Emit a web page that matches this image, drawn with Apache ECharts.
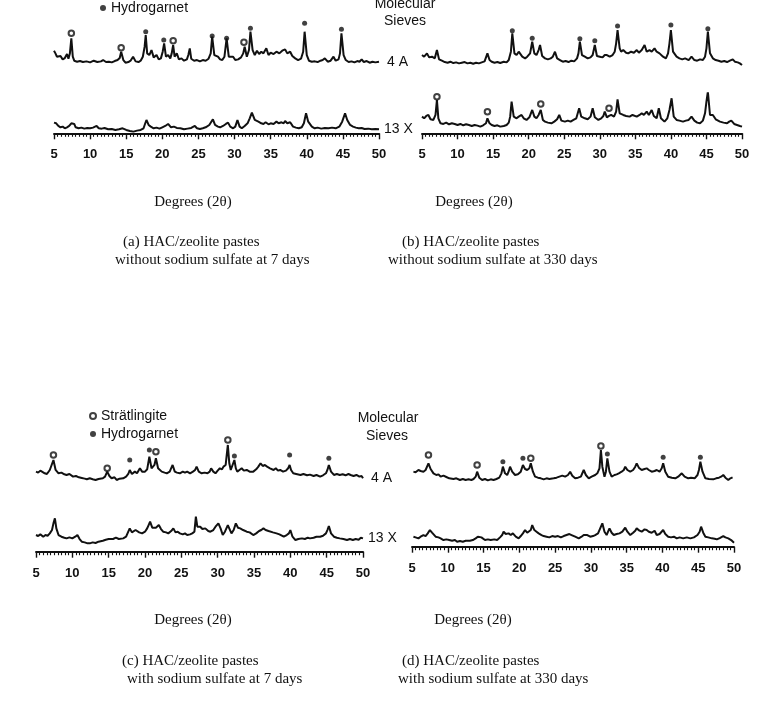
<!DOCTYPE html>
<html>
<head>
<meta charset="UTF-8">
<title>XRD HAC/zeolite pastes</title>
<script src="https://cdn.jsdelivr.net/npm/echarts/dist/echarts.min.js"></script>
<style>
  html, body { margin: 0; background: #fff; }
  #main { width: 772px; height: 710px; }
</style>
</head>
<body>
<div id="main"></div>
<script>
// 2theta ticks
const thetaMin = 5;
const thetaMax = 50;
const thetaStep = 5;

// intensities, arbitrary units, [2theta, intensity]
// (a) without sodium sulfate, 7 days
const a4A = [[5.0,48],[5.2,40],[5.4,30],[5.6,25],[5.9,32],[6.2,22],[6.5,26],[6.8,38],[7.0,24],[7.2,40],[7.4,85],[7.6,30],[7.8,18],[8.2,15],[8.6,17],[9.0,14],[9.5,16],[10.0,13],[10.5,18],[11.0,14],[11.5,16],[11.8,20],[12.2,14],[12.6,15],[13.0,13],[13.4,17],[13.8,20],[14.1,26],[14.3,45],[14.6,20],[14.9,12],[15.3,14],[15.6,18],[15.95,30],[16.3,16],[16.7,14],[17.0,18],[17.3,30],[17.55,60],[17.7,95],[17.9,40],[18.2,35],[18.5,50],[18.8,28],[19.2,35],[19.5,22],[19.8,25],[20.05,45],[20.25,70],[20.5,30],[20.8,35],[21.1,25],[21.3,40],[21.5,65],[21.7,30],[22.0,40],[22.3,22],[22.65,25],[23.0,18],[23.4,22],[23.6,35],[23.8,55],[24.0,24],[24.4,18],[24.8,20],[25.2,16],[25.6,20],[26.0,18],[26.4,24],[26.7,40],[26.9,90],[27.2,35],[27.7,30],[28.0,22],[28.3,20],[28.6,30],[28.9,85],[29.2,30],[29.8,30],[30.1,20],[30.5,22],[30.9,28],[31.2,40],[31.4,60],[31.7,30],[32.0,50],[32.2,105],[32.5,50],[32.8,35],[33.1,48],[33.4,38],[33.7,45],[34.0,40],[34.4,55],[34.7,35],[35.0,42],[35.4,38],[35.8,45],[36.2,40],[36.6,48],[37.0,52],[37.3,40],[37.7,45],[38.0,32],[38.4,25],[38.8,20],[39.2,24],[39.5,45],[39.7,105],[40.0,35],[40.3,18],[40.7,15],[41.1,16],[41.5,14],[41.9,18],[42.2,20],[42.5,25],[42.9,15],[43.3,18],[43.7,30],[44.0,18],[44.4,22],[44.6,40],[44.8,100],[45.1,35],[45.4,20],[45.8,14],[46.2,16],[46.6,13],[47.0,17],[47.3,15],[47.6,22],[47.9,14],[48.3,17],[48.7,12],[49.1,15],[49.5,13],[50.0,15]];
const a13X = [[5.0,32],[5.3,30],[5.6,22],[5.9,18],[6.2,20],[6.5,15],[6.8,18],[7.1,22],[7.4,30],[7.6,35],[7.8,28],[8.0,18],[8.4,15],[8.8,17],[9.2,14],[9.6,16],[10.0,15],[10.4,17],[10.9,22],[11.2,15],[11.6,14],[12.0,16],[12.5,12],[13.0,13],[13.5,10],[14.0,12],[14.5,15],[15.0,10],[15.5,7],[16.0,5],[16.5,8],[17.0,10],[17.4,15],[17.6,28],[17.8,40],[18.1,25],[18.4,20],[18.8,15],[19.2,17],[19.6,14],[20.0,18],[20.4,22],[20.8,28],[21.2,18],[21.6,20],[22.0,16],[22.5,15],[23.0,12],[23.5,14],[24.0,16],[24.5,22],[24.8,15],[25.2,13],[25.6,15],[26.0,18],[26.5,25],[27.0,42],[27.3,25],[27.7,20],[28.0,18],[28.4,22],[28.8,28],[29.1,32],[29.4,20],[29.8,15],[30.1,20],[30.4,40],[30.7,20],[31.0,15],[31.4,22],[31.8,30],[32.1,45],[32.4,62],[32.8,40],[33.0,35],[33.3,35],[33.7,30],[34.0,28],[34.3,33],[34.7,27],[35.0,30],[35.4,28],[35.8,35],[36.1,30],[36.5,33],[36.8,30],[37.0,37],[37.3,30],[37.7,33],[38.1,20],[38.5,17],[38.9,15],[39.3,18],[39.6,30],[39.9,60],[40.2,35],[40.7,20],[41.1,15],[41.5,17],[42.0,14],[42.5,16],[43.0,15],[43.5,17],[44.0,15],[44.5,20],[44.9,35],[45.3,60],[45.6,40],[46.0,25],[46.4,20],[46.8,17],[47.2,15],[47.6,16],[48.0,13],[48.5,14],[49.0,12],[49.5,13],[50.0,12]];

// (b) without sodium sulfate, 330 days
const b4A = [[5.0,35],[5.3,30],[5.7,40],[6.0,28],[6.4,30],[6.8,25],[7.1,50],[7.4,22],[7.8,18],[8.2,14],[8.6,12],[9.0,15],[9.4,11],[9.8,13],[10.2,10],[10.6,12],[11.0,14],[11.4,10],[11.8,12],[12.2,9],[12.6,12],[13.0,10],[13.4,13],[13.8,16],[14.0,22],[14.2,40],[14.5,20],[14.8,15],[15.2,12],[15.6,14],[16.0,11],[16.5,15],[16.9,13],[17.2,20],[17.5,45],[17.7,100],[18.0,40],[18.3,35],[18.6,45],[18.8,50],[19.1,30],[19.5,25],[19.8,30],[20.2,40],[20.5,75],[20.8,40],[21.1,35],[21.4,50],[21.6,65],[21.9,32],[22.3,25],[22.7,22],[23.1,25],[23.4,30],[23.7,45],[24.0,25],[24.4,20],[24.8,15],[25.2,17],[25.6,14],[26.0,18],[26.4,16],[26.8,25],[27.0,40],[27.2,75],[27.5,35],[27.9,30],[28.3,25],[28.7,28],[29.0,35],[29.3,65],[29.6,32],[30.0,30],[30.4,28],[30.7,35],[31.0,35],[31.4,30],[31.8,35],[32.1,45],[32.3,70],[32.5,110],[32.8,55],[33.0,45],[33.3,50],[33.7,42],[34.0,40],[34.4,45],[34.8,42],[35.2,50],[35.5,42],[35.9,50],[36.3,65],[36.6,45],[37.0,50],[37.3,45],[37.7,55],[38.0,45],[38.4,40],[38.9,30],[39.3,25],[39.6,40],[39.8,70],[40.0,110],[40.3,45],[40.8,30],[41.2,25],[41.6,22],[42.0,25],[42.5,20],[42.9,30],[43.3,20],[43.7,18],[44.1,22],[44.5,20],[44.8,30],[45.0,55],[45.2,105],[45.5,40],[45.9,25],[46.3,20],[46.7,18],[47.1,15],[47.5,17],[47.9,14],[48.3,18],[48.7,22],[49.0,15],[49.4,13],[49.7,10],[50.0,5]];
const b13X = [[5.0,50],[5.3,45],[5.6,52],[5.9,55],[6.2,42],[6.6,40],[6.9,55],[7.1,100],[7.3,45],[7.6,30],[8.0,28],[8.4,32],[8.8,27],[9.2,30],[9.6,28],[10.0,25],[10.4,28],[10.8,24],[11.2,27],[11.6,25],[12.0,22],[12.4,25],[12.8,23],[13.2,20],[13.6,24],[14.0,30],[14.2,45],[14.5,30],[14.8,25],[15.2,22],[15.6,24],[16.0,20],[16.5,22],[16.9,25],[17.2,32],[17.4,50],[17.6,95],[17.9,50],[18.3,45],[18.6,50],[19.0,55],[19.3,45],[19.7,40],[20.1,48],[20.5,70],[20.8,50],[21.1,45],[21.4,55],[21.7,70],[22.0,40],[22.3,35],[22.7,32],[23.2,30],[23.6,35],[24.0,42],[24.3,55],[24.6,38],[25.1,35],[25.5,38],[25.9,35],[26.3,40],[26.7,45],[27.1,75],[27.4,50],[27.9,45],[28.3,42],[28.7,50],[29.0,75],[29.3,48],[29.8,40],[30.2,45],[30.5,52],[30.7,65],[31.0,48],[31.3,52],[31.6,55],[32.0,50],[32.3,65],[32.5,102],[32.8,60],[33.3,55],[33.7,52],[34.2,50],[34.6,55],[35.2,50],[35.6,55],[35.9,60],[36.2,55],[36.6,65],[36.9,55],[37.3,70],[37.6,52],[38.0,45],[38.3,75],[38.6,45],[39.1,35],[39.5,45],[39.8,70],[40.1,105],[40.4,50],[40.8,40],[41.2,38],[41.7,35],[42.1,38],[42.5,40],[42.9,50],[43.3,38],[43.7,32],[44.1,30],[44.5,38],[44.8,60],[45.0,95],[45.2,125],[45.5,55],[45.9,55],[46.3,42],[46.9,35],[47.4,32],[47.9,30],[48.2,35],[48.5,38],[48.9,28],[49.3,25],[49.7,22],[50.0,20]];

// (c) with sodium sulfate, 7 days
const c4A = [[5.0,35],[5.3,32],[5.6,38],[5.8,32],[6.2,30],[6.5,28],[6.9,40],[7.1,45],[7.4,70],[7.7,40],[8.1,30],[8.5,32],[8.9,27],[9.2,25],[9.6,28],[10.1,20],[10.5,22],[10.9,18],[11.3,16],[11.7,14],[12.0,12],[12.4,15],[12.8,12],[13.2,10],[13.6,13],[13.8,10],[14.2,15],[14.5,20],[14.8,35],[15.1,22],[15.4,15],[15.8,18],[16.1,10],[16.5,14],[17.0,15],[17.4,20],[17.7,28],[17.9,40],[18.2,28],[18.6,35],[18.9,30],[19.3,45],[19.6,35],[20.0,35],[20.3,42],[20.6,80],[20.9,45],[21.1,50],[21.3,55],[21.5,75],[21.8,45],[22.3,35],[22.7,32],[23.0,30],[23.4,35],[23.8,55],[24.1,35],[24.4,32],[24.8,30],[25.2,35],[25.5,32],[25.8,35],[26.2,30],[26.6,35],[26.9,40],[27.1,50],[27.4,35],[27.8,30],[28.2,32],[28.6,30],[28.9,35],[29.1,45],[29.4,35],[29.7,30],[30.0,38],[30.3,45],[30.6,42],[30.8,50],[31.1,55],[31.4,115],[31.6,60],[31.8,40],[32.0,45],[32.3,70],[32.5,45],[32.7,35],[33.0,40],[33.3,45],[33.6,38],[34.0,40],[34.4,35],[34.9,35],[35.3,42],[35.6,50],[35.9,60],[36.2,52],[36.5,55],[36.8,50],[37.2,45],[37.7,40],[38.0,45],[38.3,38],[38.6,40],[39.0,35],[39.4,38],[39.7,45],[39.9,55],[40.1,40],[40.4,30],[40.8,28],[41.4,25],[41.8,28],[42.3,24],[42.7,26],[43.2,22],[43.6,25],[44.1,20],[44.5,24],[44.9,30],[45.1,40],[45.3,55],[45.6,35],[46.0,25],[46.4,28],[46.8,25],[47.2,27],[47.6,24],[48.0,28],[48.3,25],[48.7,22],[49.1,25],[49.5,20],[49.8,22],[50.0,15]];
const c13X = [[5.0,50],[5.3,47],[5.6,52],[6.0,45],[6.3,50],[6.6,48],[6.9,55],[7.2,65],[7.4,85],[7.6,100],[7.8,70],[8.1,50],[8.5,45],[8.9,42],[9.2,40],[9.6,43],[10.0,40],[10.4,45],[10.7,50],[11.0,38],[11.3,30],[11.7,28],[12.1,25],[12.4,25],[12.8,28],[13.2,26],[13.6,30],[13.8,30],[14.2,33],[14.6,36],[15.0,38],[15.2,40],[15.6,38],[16.0,42],[16.4,38],[17.0,40],[17.4,45],[17.7,60],[17.9,70],[18.2,58],[18.4,60],[18.7,65],[18.9,70],[19.2,58],[19.6,55],[20.0,60],[20.3,70],[20.5,80],[20.7,90],[21.0,72],[21.2,75],[21.5,72],[21.9,80],[22.2,68],[22.5,60],[22.9,58],[23.2,55],[23.6,62],[23.9,70],[24.2,58],[24.5,60],[24.8,55],[25.2,52],[25.5,55],[25.8,50],[26.2,52],[26.5,55],[26.8,60],[27.0,105],[27.2,75],[27.6,75],[27.9,68],[28.3,70],[28.7,62],[29.0,60],[29.4,65],[29.7,75],[30.1,85],[30.4,70],[30.7,50],[31.0,60],[31.4,80],[31.7,65],[31.9,55],[32.2,65],[32.5,85],[32.8,72],[33.1,70],[33.5,65],[34.0,60],[34.4,58],[34.9,50],[35.3,55],[35.7,62],[36.0,65],[36.3,70],[36.6,65],[37.0,62],[37.2,60],[37.6,58],[38.1,55],[38.5,52],[39.1,45],[39.5,50],[39.8,55],[40.0,65],[40.3,45],[40.7,35],[41.1,38],[41.6,40],[42.0,38],[42.4,42],[42.7,40],[43.2,42],[43.6,45],[44.1,45],[44.5,48],[44.9,55],[45.1,65],[45.3,77],[45.6,55],[46.0,45],[46.4,42],[46.8,40],[47.3,38],[47.8,35],[48.2,38],[48.6,35],[49.0,38],[49.4,36],[49.7,42],[50.0,40]];

// (d) with sodium sulfate, 330 days
const d4A = [[5.2,40],[5.5,38],[5.9,45],[6.2,42],[6.6,40],[6.9,45],[7.1,50],[7.3,65],[7.6,48],[8.0,35],[8.4,30],[8.7,32],[9.0,25],[9.4,28],[9.8,24],[10.2,20],[10.4,22],[10.8,18],[11.2,20],[11.7,15],[12.1,18],[12.5,15],[12.9,17],[13.3,15],[13.6,18],[13.9,25],[14.1,40],[14.4,22],[14.8,15],[15.2,18],[15.6,14],[16.0,17],[16.4,15],[16.8,18],[17.2,22],[17.5,35],[17.7,55],[18.0,35],[18.3,30],[18.5,40],[18.7,55],[19.0,40],[19.4,30],[19.8,32],[20.2,40],[20.5,60],[20.8,48],[21.1,45],[21.4,50],[21.6,65],[21.9,40],[22.2,25],[22.6,22],[23.0,20],[23.4,17],[23.8,20],[24.2,18],[24.8,20],[25.2,22],[25.6,25],[26.0,28],[26.4,25],[26.8,30],[27.1,40],[27.4,28],[27.8,20],[28.2,22],[28.6,25],[29.0,45],[29.3,30],[29.7,20],[30.1,25],[30.6,30],[30.9,35],[31.2,50],[31.4,105],[31.6,55],[31.9,25],[32.1,40],[32.3,80],[32.6,40],[32.9,25],[33.3,30],[33.6,32],[33.9,35],[34.3,40],[34.6,45],[34.8,55],[35.1,45],[35.5,40],[35.9,45],[36.2,55],[36.4,65],[36.7,52],[37.1,45],[37.5,48],[37.8,50],[38.1,45],[38.5,40],[38.9,42],[39.2,45],[39.6,40],[39.9,50],[40.1,65],[40.4,40],[40.8,25],[41.3,22],[41.8,20],[42.2,25],[42.7,35],[43.1,25],[43.6,20],[44.0,22],[44.5,20],[44.9,30],[45.1,45],[45.3,70],[45.6,40],[46.0,20],[46.5,18],[47.1,17],[47.5,20],[47.9,22],[48.2,25],[48.5,30],[48.8,22],[49.2,15],[49.5,20],[49.8,23]];
const d13X = [[5.2,30],[5.5,28],[5.9,25],[6.2,30],[6.6,35],[6.9,32],[7.2,40],[7.5,50],[7.8,42],[8.3,30],[8.7,28],[9.0,25],[9.4,20],[9.8,22],[10.2,20],[10.6,18],[11.0,20],[11.3,15],[11.7,17],[12.1,15],[12.5,18],[12.7,15],[13.1,18],[13.5,20],[13.9,25],[14.2,30],[14.4,35],[14.7,28],[15.2,20],[15.6,22],[16.0,20],[16.5,22],[16.9,20],[17.3,28],[17.6,35],[17.8,45],[18.1,38],[18.5,40],[18.8,35],[19.1,40],[19.5,30],[19.9,25],[20.2,32],[20.5,40],[20.8,50],[21.1,42],[21.3,40],[21.6,50],[21.8,65],[22.1,50],[22.4,45],[22.7,40],[23.1,35],[23.4,32],[23.8,30],[24.2,28],[24.6,32],[25.0,30],[25.4,32],[25.8,28],[26.2,32],[26.6,35],[27.0,38],[27.3,35],[27.8,30],[28.3,25],[28.7,30],[29.0,35],[29.2,40],[29.5,35],[29.9,30],[30.3,32],[30.6,35],[31.0,40],[31.3,55],[31.6,70],[31.9,45],[32.2,35],[32.4,45],[32.6,55],[32.9,42],[33.2,35],[33.6,38],[34.0,40],[34.4,45],[34.8,57],[35.1,45],[35.5,35],[35.9,42],[36.2,48],[36.4,55],[36.8,48],[37.1,45],[37.5,52],[37.8,50],[38.1,45],[38.5,42],[38.9,48],[39.2,35],[39.6,38],[40.1,50],[40.4,38],[40.8,30],[41.2,28],[41.6,30],[42.0,25],[42.4,28],[42.9,25],[43.4,28],[43.9,25],[44.4,28],[44.9,35],[45.2,45],[45.4,60],[45.7,42],[46.0,30],[46.4,28],[46.9,25],[47.3,24],[47.6,22],[48.0,26],[48.5,32],[48.8,28],[49.2,25],[49.6,20],[50.0,12]];

// peak marks [2theta, level]
const aStrat = [[7.4,100],[14.3,57],[21.5,78],[31.3,73]];
const aHydro = [[17.7,105],[20.2,80],[26.9,92],[28.9,85],[32.2,115],[39.7,130],[44.8,112]];
const bHydro = [[17.7,108],[20.5,85],[27.2,84],[29.3,78],[32.5,122],[40.0,125],[45.2,114]];
const b13Strat = [[7.1,110],[14.2,65],[21.7,88],[31.3,75]];
const cStrat = [[7.4,85],[14.8,45],[21.5,95],[31.4,130]];
const cHydro = [[17.9,70],[20.6,100],[32.3,82],[39.9,85],[45.3,75]];
const dStrat = [[7.3,90],[14.1,60],[21.6,80],[31.4,117]];
const dHydro = [[17.7,70],[20.5,80],[32.3,93],[40.1,83],[45.3,83]];

const sieveLabels = ['4 A', '13 X'];
const captions = [
  ['(a) HAC/zeolite pastes', 'without sodium sulfate at 7 days'],
  ['(b) HAC/zeolite pastes', 'without sodium sulfate at 330 days'],
  ['(c) HAC/zeolite pastes', 'with sodium sulfate at 7 days'],
  ['(d) HAC/zeolite pastes', 'with sodium sulfate at 330 days']
];

const INK = '#111';
const SANS = '"Liberation Sans", Arial, sans-serif';
const SERIF = '"Liberation Serif", "Times New Roman", serif';

// one grid per trace: [left, width, top, yMax]  (3 units per pixel)
const grids = [
  [54, 325, 16.7, 150], [54, 325, 103.3, 90],
  [422, 320, 16.7, 150], [422, 320, 93.3, 120],
  [36, 327, 433.3, 150], [36, 327, 511.7, 120],
  [412, 322, 435, 150], [412, 322, 506.7, 120]
];
const traces = [a4A, a13X, b4A, b13X, c4A, c13X, d4A, d13X];
const marks = [
  { g: 0, strat: aStrat, hydro: aHydro },
  { g: 2, strat: [], hydro: bHydro },
  { g: 3, strat: b13Strat, hydro: [] },
  { g: 4, strat: cStrat, hydro: cHydro },
  { g: 6, strat: dStrat, hydro: dHydro }
];

const chart = echarts.init(document.getElementById('main'), null, { renderer: 'canvas' });

const gridOpt = grids.map(g => ({ left: g[0], width: g[1], top: g[2], height: g[3] / 3 }));
const xAxes = grids.map((g, i) => {
  const is13 = i % 2 === 1;
  return {
    type: 'value', gridIndex: i, min: thetaMin, max: thetaMax, interval: thetaStep,
    show: is13,
    splitLine: { show: false },
    axisLine: { show: true, onZero: false, lineStyle: { color: INK, width: 1.8 } },
    axisTick: { show: true, length: 6, lineStyle: { color: INK, width: 1.4 } },
    minorTick: { show: true, splitNumber: 10, length: 3.5, lineStyle: { color: INK, width: 1.1 } },
    axisLabel: { margin: 15, fontSize: 13, fontWeight: 'bold', fontFamily: SANS, color: INK }
  };
});
const yAxes = grids.map((g, i) => ({ type: 'value', gridIndex: i, min: 0, max: g[3], show: false }));

const series = [];
traces.forEach((data, i) => {
  const left = i === 0 || i === 1 || i === 4 || i === 5;
  series.push({
    type: 'line', xAxisIndex: i, yAxisIndex: i, data: data,
    showSymbol: false, smooth: false, silent: true,
    lineStyle: { color: INK, width: 2 },
    endLabel: {
      show: left,
      formatter: sieveLabels[i % 2],
      distance: i % 2 ? 5 : 8,
      fontSize: 14, fontFamily: SANS, color: INK
    }
  });
});
marks.forEach(m => {
  series.push({
    type: 'scatter', name: 'Strätlingite', xAxisIndex: m.g, yAxisIndex: m.g, data: m.strat,
    symbol: 'emptyCircle', symbolSize: 5.5, clip: false,
    itemStyle: { color: INK, borderColor: INK, borderWidth: 1.3 }
  });
  series.push({
    type: 'scatter', name: 'Hydrogarnet', xAxisIndex: m.g, yAxisIndex: m.g, data: m.hydro,
    symbol: 'circle', symbolSize: 5, clip: false,
    itemStyle: { color: INK }
  });
});

function legendAt(top, left) {
  return {
    orient: 'vertical', top: top, left: left, selectedMode: false,
    itemWidth: 6, itemHeight: 6, itemGap: 4,
    data: ['Strätlingite', 'Hydrogarnet'],
    textStyle: { fontSize: 14, lineHeight: 14, fontFamily: SANS, color: INK }
  };
}

function txt(x, y, s, font, align) {
  return {
    type: 'text', silent: true,
    style: { x: x, y: y, text: s, font: font, fill: INK, textAlign: align || 'center', textVerticalAlign: 'middle' }
  };
}

const sansF = '14px ' + SANS;
const serifF = '15px ' + SERIF;
const graphics = [
  txt(405, 4, 'Molecular', sansF), txt(405, 21.5, 'Sieves', sansF),
  txt(388, 418, 'Molecular', sansF), txt(387, 436.5, 'Sieves', sansF),
  txt(193, 202, 'Degrees (2θ)', serifF), txt(474, 202, 'Degrees (2θ)', serifF),
  txt(193, 620, 'Degrees (2θ)', serifF), txt(473, 620, 'Degrees (2θ)', serifF),
  txt(123, 242, captions[0][0], serifF, 'left'), txt(115, 260, captions[0][1], serifF, 'left'),
  txt(402, 242, captions[1][0], serifF, 'left'), txt(388, 260, captions[1][1], serifF, 'left'),
  txt(122, 661, captions[2][0], serifF, 'left'), txt(127, 679, captions[2][1], serifF, 'left'),
  txt(402, 661, captions[3][0], serifF, 'left'), txt(398, 679, captions[3][1], serifF, 'left')
];

chart.setOption({
  animation: false,
  backgroundColor: '#fff',
  grid: gridOpt,
  xAxis: xAxes,
  yAxis: yAxes,
  legend: [legendAt(-22, 94), legendAt(404, 84)],
  graphic: graphics,
  series: series
});
</script>
</body>
</html>
